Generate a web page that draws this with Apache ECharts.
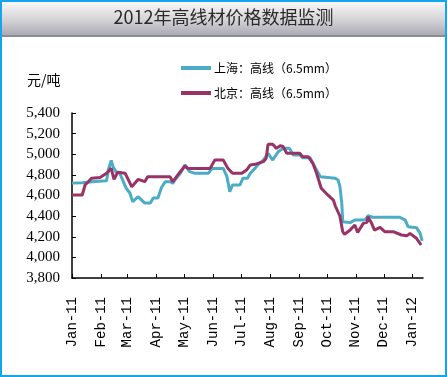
<!DOCTYPE html>
<html>
<head>
<meta charset="utf-8">
<script src="https://cdn.jsdelivr.net/npm/echarts@6/dist/echarts.min.js"></script>
<style>
  html, body { margin: 0; padding: 0; background: #fff; }
  #chart { width: 447px; height: 377px; }
</style>
</head>
<body>
<div id="chart"></div>
<script>
// 上海：高线（6.5mm）
var shDates = ['2011-01-01', '2011-01-12', '2011-01-26', '2011-02-07', '2011-02-09', '2011-02-12', '2011-02-14',
  '2011-02-17', '2011-02-21', '2011-02-25', '2011-02-28', '2011-03-02', '2011-03-04', '2011-03-07', '2011-03-09',
  '2011-03-13', '2011-03-16', '2011-03-20', '2011-03-26', '2011-03-29', '2011-04-03', '2011-04-07', '2011-04-11',
  '2011-04-16', '2011-04-19', '2011-04-22', '2011-04-27', '2011-05-02', '2011-05-07', '2011-05-13', '2011-05-27',
  '2011-05-31', '2011-06-12', '2011-06-16', '2011-06-19', '2011-06-22', '2011-06-30', '2011-07-03', '2011-07-08',
  '2011-07-11', '2011-07-16', '2011-07-19', '2011-07-25', '2011-07-30', '2011-08-04', '2011-08-10', '2011-08-15',
  '2011-08-22', '2011-08-26', '2011-09-02', '2011-09-05', '2011-09-13', '2011-09-18', '2011-09-24', '2011-09-26',
  '2011-10-10', '2011-10-13', '2011-10-15', '2011-10-17', '2011-10-18', '2011-10-19', '2011-10-26', '2011-10-31',
  '2011-11-11', '2011-11-14', '2011-11-19', '2011-11-27', '2011-11-29', '2011-12-02', '2011-12-18', '2011-12-24',
  '2011-12-27', '2012-01-05', '2012-01-09', '2012-01-11']
var shValues = [4720, 4724, 4735, 4744, 4850, 4940, 4880,
  4830, 4818, 4734, 4670, 4653, 4624, 4540, 4527,
  4588, 4560, 4527, 4527, 4576, 4576, 4680, 4734,
  4734, 4718, 4760, 4815, 4896, 4831, 4815, 4815,
  4863, 4863, 4782, 4637, 4702, 4702, 4767, 4767,
  4815, 4863, 4896, 4944, 5009, 4944, 5025, 5057,
  5057, 4993, 4993, 4967, 4967, 4880, 4782, 4767,
  4767, 4750, 4686, 4524, 4346, 4337, 4337, 4362,
  4362, 4404, 4389, 4389, 4370, 4389, 4389, 4362,
  4298, 4288, 4233, 4160]

// 北京：高线（6.5mm）
var bjDates = ['2011-01-01', '2011-01-12', '2011-01-15', '2011-01-22', '2011-01-31', '2011-02-07', '2011-02-12',
  '2011-02-15', '2011-02-19', '2011-02-27', '2011-03-06', '2011-03-13', '2011-03-20', '2011-03-23', '2011-04-16',
  '2011-04-19', '2011-04-27', '2011-05-02', '2011-05-05', '2011-05-29', '2011-06-03', '2011-06-12', '2011-06-17',
  '2011-06-22', '2011-07-02', '2011-07-07', '2011-07-11', '2011-07-16', '2011-07-25', '2011-07-28', '2011-07-30',
  '2011-08-04', '2011-08-08', '2011-08-12', '2011-08-15', '2011-08-19', '2011-09-02', '2011-09-05', '2011-09-11',
  '2011-09-16', '2011-09-20', '2011-09-25', '2011-10-02', '2011-10-08', '2011-10-10', '2011-10-13', '2011-10-15',
  '2011-10-18', '2011-10-20', '2011-10-26', '2011-10-31', '2011-11-03', '2011-11-09', '2011-11-13', '2011-11-14',
  '2011-11-18', '2011-11-21', '2011-11-27', '2011-12-02', '2011-12-11', '2011-12-20', '2011-12-26', '2011-12-29',
  '2012-01-05', '2012-01-10']
var bjValues = [4605, 4605, 4702, 4767, 4775, 4815, 4863,
  4757, 4825, 4815, 4685, 4757, 4734, 4782, 4782,
  4734, 4831, 4886, 4863, 4863, 4944, 4944, 4863,
  4815, 4815, 4847, 4896, 4902, 4928, 4960, 5096,
  5096, 5057, 5083, 5075, 5009, 5009, 4976, 4976,
  4912, 4815, 4670, 4605, 4556, 4500, 4440, 4400,
  4249, 4224, 4265, 4314, 4241, 4330, 4340, 4394,
  4330, 4265, 4290, 4249, 4249, 4217, 4210, 4233,
  4185, 4120]

var seriesNames = ['上海：高线（6.5mm）', '北京：高线（6.5mm）']
var yMin = 3800
var yMax = 5400
var yStep = 200
var xStart = '2011-01-01'
var xEnd = '2012-01-12'

function pairs(dates, values) {
  return dates.map(function (d, i) { return [d, values[i]] })
}

var chart = echarts.init(document.getElementById('chart'))
var MONTH = 24 * 3600 * 1000 * 30

chart.setOption({
  animation: false,
  backgroundColor: '#fff',
  color: ['#4bacc6', '#993366'],
  graphic: [
    {
      type: 'rect',
      shape: { x: 2, y: 2, width: 443, height: 34 },
      style: {
        fill: {
          type: 'linear', x: 0, y: 0, x2: 0, y2: 1,
          colorStops: [
            { offset: 0, color: '#f8f8f8' },
            { offset: 0.5, color: '#d6d6da' },
            { offset: 1, color: '#a8a8b0' }
          ]
        }
      },
      z: 0
    },
    {
      type: 'rect',
      shape: { x: 2, y: 35, width: 443, height: 2 },
      style: { fill: '#8c8c94' },
      z: 0
    },
    {
      type: 'rect',
      shape: { x: 1, y: 1, width: 445, height: 375 },
      style: { fill: 'none', stroke: '#12a6ee', lineWidth: 2 },
      z: 10
    },
    {
      type: 'text',
      left: 'center',
      top: 8,
      style: {
        text: '2012年高线材价格数据监测',
        fill: '#2a2a2a',
        font: '18px "Noto Sans CJK SC"'
      },
      z: 5
    },
    {
      type: 'text',
      left: 27,
      top: 73,
      style: {
        text: '元/吨',
        fill: '#000',
        font: '14px "Noto Sans CJK SC"'
      },
      z: 5
    }
  ],
  legend: {
    orient: 'vertical',
    left: 176,
    top: 57,
    itemWidth: 30,
    itemHeight: 4,
    itemGap: 13,
    icon: 'rect',
    textStyle: { color: '#000', fontSize: 12, fontFamily: 'Noto Sans CJK SC', padding: [0, 0, 0, -2] },
    data: seriesNames
  },
  grid: { left: 72, right: 24, top: 113, bottom: 99 },
  xAxis: {
    type: 'time',
    min: xStart,
    max: xEnd,
    minInterval: MONTH - 3 * 86400000,
    maxInterval: MONTH + 2 * 86400000,
    splitNumber: 12,
    axisLine: { lineStyle: { color: '#000', width: 1.5 } },
    axisTick: { inside: true, length: 4, lineStyle: { color: '#000' } },
    splitLine: { show: false },
    axisLabel: {
      rotate: 90,
      margin: 19,
      color: '#000',
      fontFamily: 'Liberation Mono',
      fontSize: 14,
      formatter: '{MMM}-{yy}',
      showMinLabel: true,
      showMaxLabel: false,
      hideOverlap: false
    }
  },
  yAxis: {
    type: 'value',
    min: yMin,
    max: yMax,
    interval: yStep,
    axisLine: { show: true, lineStyle: { color: '#000', width: 1.5 } },
    axisTick: { show: true, inside: true, length: 4, lineStyle: { color: '#000' } },
    splitLine: { show: false },
    axisLabel: {
      margin: 12,
      color: '#000',
      fontFamily: 'Liberation Serif',
      fontSize: 15,
      formatter: function (v) { return v.toLocaleString('en-US') }
    }
  },
  series: [
    {
      name: seriesNames[0],
      type: 'line',
      showSymbol: false,
      lineStyle: { width: 3 },
      data: pairs(shDates, shValues)
    },
    {
      name: seriesNames[1],
      type: 'line',
      showSymbol: false,
      lineStyle: { width: 3 },
      data: pairs(bjDates, bjValues)
    }
  ]
})
</script>
</body>
</html>
